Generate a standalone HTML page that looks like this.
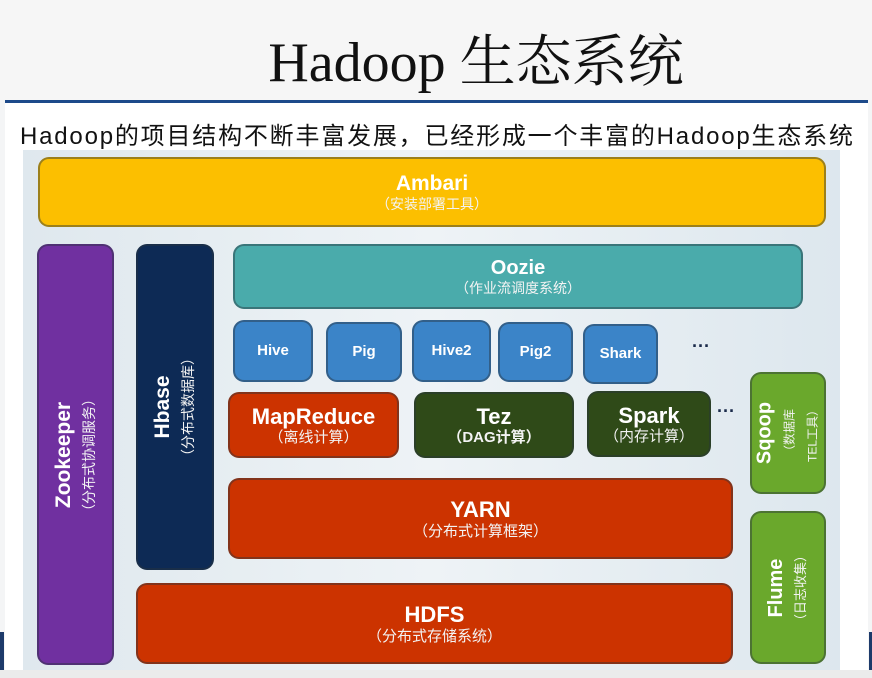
<!DOCTYPE html>
<html><head><meta charset="utf-8"><style>
body{margin:0;width:872px;height:678px;overflow:hidden;background:#f4f5f6;font-family:"Liberation Sans","Noto Sans CJK SC",sans-serif;position:relative}
.a{position:absolute}
.b{position:absolute;border-radius:11px;color:#fff;text-align:center;box-sizing:border-box;border:2px solid rgba(40,50,60,.45);display:flex;flex-direction:column;justify-content:center;align-items:center;font-weight:bold;line-height:1.15}
.s{font-weight:normal;font-size:14px;color:#f3f3f3}
.r{position:absolute;left:50%;top:50%;transform:translate(-50%,-50%) rotate(-90deg);white-space:nowrap;text-align:center;line-height:1.15}
.red{background:#cc3300}
.blu{background:#3b84c8;font-size:15px}
.grn{background:#2f4a18}
.lg{background:#6aa82c}
</style></head><body>
<div class="a" style="left:0;top:0;width:872px;height:100px;background:#f6f6f6"></div>
<div class="a" style="left:0;top:18px;width:952px;text-align:center;font-family:'Liberation Serif','Noto Serif CJK SC',serif;font-size:56px;color:#111">Hadoop 生态系统</div>
<div class="a" style="left:5px;top:100px;width:863px;height:3px;background:#1d4a8a"></div>
<div class="a" style="left:5px;top:103px;width:863px;height:575px;background:#fff"></div>
<div class="a" style="left:20px;top:116px;font-size:24px;letter-spacing:1.8px;color:#111;white-space:nowrap">Hadoop的项目结构不断丰富发展，已经形成一个丰富的Hadoop生态系统</div>
<div class="a" style="left:23px;top:150px;width:817px;height:520px;background:linear-gradient(90deg,#dfe8ee,#eef3f6 50%,#dde7ee)"></div>
<div class="a" style="left:0;top:670px;width:872px;height:8px;background:#ebebeb"></div>
<div class="a" style="left:0;top:632px;width:4px;height:38px;background:#1d3a6a"></div>
<div class="a" style="left:869px;top:632px;width:3px;height:38px;background:#1d3a6a"></div>

<div class="b" style="left:38px;top:157px;width:788px;height:70px;background:#fcbf00;font-size:21px">Ambari<span class="s" style="font-size:14px">（安装部署工具）</span></div>

<div class="b" style="left:37px;top:244px;width:77px;height:421px;background:#7030a0"><div class="r" style="font-size:21px">Zookeeper<br><span class="s">（分布式协调服务）</span></div></div>
<div class="b" style="left:136px;top:244px;width:78px;height:326px;background:#0d2a55"><div class="r" style="font-size:21px">Hbase<br><span class="s">（分布式数据库）</span></div></div>

<div class="b" style="left:233px;top:244px;width:570px;height:65px;background:#4aabab;font-size:20px">Oozie<span class="s">（作业流调度系统）</span></div>

<div class="b blu" style="left:233px;top:320px;width:80px;height:62px">Hive</div>
<div class="b blu" style="left:326px;top:322px;width:76px;height:60px">Pig</div>
<div class="b blu" style="left:412px;top:320px;width:79px;height:62px">Hive2</div>
<div class="b blu" style="left:498px;top:322px;width:75px;height:60px">Pig2</div>
<div class="b blu" style="left:583px;top:324px;width:75px;height:60px">Shark</div>
<div class="a" style="left:692px;top:336px;font-weight:bold;font-size:18px;color:#1a2a4a">···</div>

<div class="b red" style="left:228px;top:392px;width:171px;height:66px;font-size:22px">MapReduce<span class="s" style="font-size:15px">（离线计算）</span></div>
<div class="b grn" style="left:414px;top:392px;width:160px;height:66px;font-size:22px">Tez<span class="s" style="font-size:15px;font-weight:bold">（DAG计算）</span></div>
<div class="b grn" style="left:587px;top:391px;width:124px;height:66px;font-size:22px">Spark<span class="s" style="font-size:15px">（内存计算）</span></div>
<div class="a" style="left:717px;top:401px;font-weight:bold;font-size:18px;color:#1a2a4a">···</div>

<div class="b lg" style="left:750px;top:372px;width:76px;height:122px"><div class="r" style="font-size:20px">Sqoop<br><span class="s" style="font-size:12px">（数据库<br>TEL工具）</span></div></div>
<div class="b lg" style="left:750px;top:511px;width:76px;height:153px"><div class="r" style="font-size:20px">Flume<br><span class="s" style="font-size:13px">（日志收集）</span></div></div>

<div class="b red" style="left:228px;top:478px;width:505px;height:81px;font-size:22px">YARN<span class="s" style="font-size:15px">（分布式计算框架）</span></div>
<div class="b red" style="left:136px;top:583px;width:597px;height:81px;font-size:22px">HDFS<span class="s" style="font-size:15px">（分布式存储系统）</span></div>
</body></html>
